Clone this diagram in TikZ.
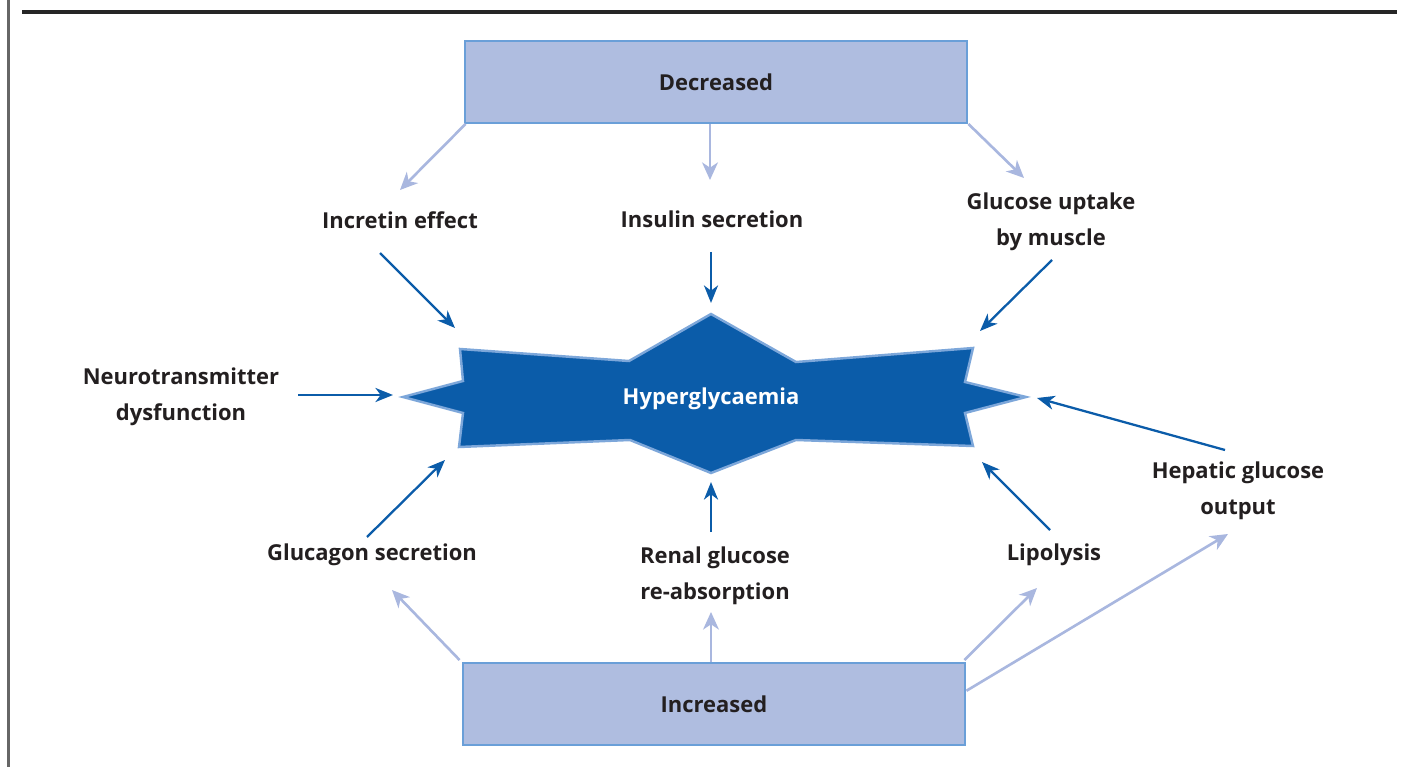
\documentclass[tikz,border=0pt]{standalone}
\usepackage{fontspec}
\setmainfont{Open Sans}
\usetikzlibrary{arrows.meta, calc}
\definecolor{hypblue}{HTML}{0B5CA9}
\definecolor{hypline}{HTML}{7DA7DA}
\definecolor{boxfill}{HTML}{AFBDE0}
\definecolor{boxline}{HTML}{6A9FD8}
\definecolor{lightarr}{HTML}{A9B7DF}
\definecolor{txt}{HTML}{231F20}
\tikzset{%
    lbl/.style={font=\bfseries\fontsize{12.5}{20.5}\selectfont, align=center, inner sep=1pt, text=txt},
    box/.style={rectangle, draw=boxline, line width=1.4pt, fill=boxfill, minimum width=10.05cm, minimum height=1.63cm, font=\bfseries\fontsize{12.5}{15}\selectfont, text=txt},
    lia/.style={line width = 1.5pt, draw=lightarr, -{Stealth[length=10pt, width=9pt, inset=3pt]}},
    dka/.style={line width = 1.3pt, draw=hypblue, -{Stealth[length=10pt, width=8pt, inset=3pt]}},
    hyp/.style={draw=hypline, line width=1.4pt, fill=hypblue, line join=miter},
}

\begin{document}
\begin{tikzpicture}[x=0.02cm, y=-0.02cm]
    \useasboundingbox (0,0) rectangle (1401,767);
    % frame rules
    \draw [line width=1.3pt, black!60] (8.5,0) -- (8.5,767);
    \draw [line width=2pt, black!85] (22,12) -- (1397,12);

    % central star
    \draw [hyp] (403,397) -- (463,381) -- (460,349) -- (629,361) -- (711,314)
        -- (796,362) -- (973,348) -- (965,382) -- (1026,397) -- (965,413)
        -- (973,446) -- (796,440) -- (711,473) -- (630,440) -- (459,447)
        -- (463,413) -- cycle;
    \node [lbl, text=white] (hyp) at (711,399) {Hyperglycaemia};

    % boxes
    \node [box] (dec) at (716,82) {Decreased};
    \node [box] (inc) at (714,704) {Increased};

    % labels
    \node [lbl] (incretin) at (400,220) {Incretin effect};
    \node [lbl] (insulin) at (712,219) {Insulin secretion};
    \node [lbl] (uptake) at (1051,222) {Glucose uptake\\by muscle};
    \node [lbl] (neuro) at (181,397) {Neurotransmitter\\dysfunction};
    \node [lbl] (glucagon) at (372,555) {Glucagon secretion};
    \node [lbl] (renal) at (715,576) {Renal glucose\\re-absorption};
    \node [lbl] (lipo) at (1054,555) {Lipolysis};
    \node [lbl] (hepatic) at (1238,491) {Hepatic glucose\\output};

    % arrow ends
    \coordinate (incretinu) at (400,190);
    \coordinate (insulinu) at (710,180);
    \coordinate (uptakeu) at (1024,178);
    \coordinate (glucagond) at (392,590);
    \coordinate (renald) at (711,612);
    \coordinate (lipod) at (1037,588);
    \coordinate (hepaticd) at (1228,534);

    \coordinate (incretins) at (380,253);
    \coordinate (incretint) at (455,328);
    \coordinate (insulins) at (711,252);
    \coordinate (insulint) at (711,303);
    \coordinate (uptakes) at (1052,260);
    \coordinate (uptaket) at (980,331);
    \coordinate (neuros) at (298,395);
    \coordinate (neurot) at (393,395);
    \coordinate (glucagons) at (367,537);
    \coordinate (glucagont) at (445,460);
    \coordinate (renals) at (711,532);
    \coordinate (renalt) at (711,482);
    \coordinate (lipos) at (1050,530);
    \coordinate (lipot) at (982,462);
    \coordinate (hepatics) at (1225,450);
    \coordinate (hepatict) at (1037,398);

    % decreased / increased
    \draw [lia] ($(dec.south west)+(2,0)$) -- (incretinu);
    \draw [lia] (dec.south -| insulinu) -- (insulinu);
    \draw [lia] (dec.south east) -- (uptakeu);
    \draw [lia] ($(inc.north west)+(-2,-2)$) -- (glucagond);
    \draw [lia] (inc.north -| renald) -- (renald);
    \draw [lia] ($(inc.north east)+(-2,-2)$) -- (lipod);
    \draw [lia] (inc.3) -- (hepaticd);

    % into hyperglycaemia
    \draw [dka] (incretins) -- (incretint);
    \draw [dka] (insulins) -- (insulint);
    \draw [dka] (uptakes) -- (uptaket);
    \draw [dka] (neuros) -- (neurot);
    \draw [dka] (glucagons) -- (glucagont);
    \draw [dka] (renals) -- (renalt);
    \draw [dka] (lipos) -- (lipot);
    \draw [dka] (hepatics) -- (hepatict);
\end{tikzpicture}
\end{document}
